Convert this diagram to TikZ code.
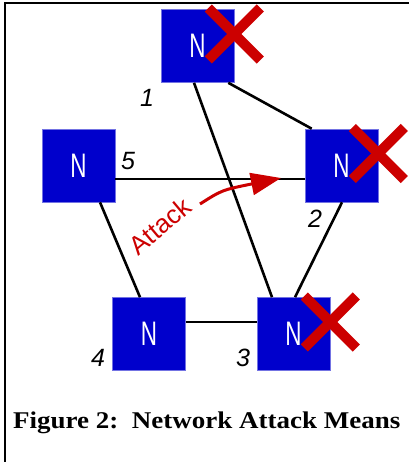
\documentclass[tikz,border=0pt]{standalone}
\usepackage{fontspec}
\usepackage{graphicx}
\setmainfont{Liberation Serif}
\setsansfont{Liberation Sans}
\usetikzlibrary{calc,arrows.meta}
\definecolor{nblue}{RGB}{0,0,204}
\definecolor{xred}{RGB}{204,0,0}
\begin{document}
\begin{tikzpicture}[x=1pt,y=-1pt,
  netnode/.style={draw=nblue!55, line width=0.6pt, fill=nblue, minimum size=73pt, inner sep=0pt, text=white, font=\sffamily\fontsize{34}{34}\selectfont},
  link/.style={line width=2.6pt, black},
  numlabel/.style={font=\sffamily\itshape\fontsize{25}{25}\selectfont, inner sep=0pt},
  crossline/.style={xred, line width=10pt, line cap=butt}]
\useasboundingbox (0,0) rectangle (409,462);
% frame
\draw[line width=2pt, line join=miter] (5,462) -- (5,3.3) -- (409,3.3);
\node[netnode] (n1) at (197.5,46) {\scalebox{0.66}[1]{N}};
\node[netnode] (n2) at (341.5,165.5) {\scalebox{0.66}[1]{N}};
\node[netnode] (n5) at (78.5,165.5) {\scalebox{0.66}[1]{N}};
\node[netnode] (n4) at (149,334) {\scalebox{0.66}[1]{N}};
\node[netnode] (n3) at (293.5,334) {\scalebox{0.66}[1]{N}};
\draw[link] ($(n1.south)+(-3.5,0)$) -- ($(n3.north)+(-21.5,0)$);
\draw[link] ($(n1.south east)+(-6,0)$) -- ($(n2.north west)+(7,0)$);
\draw[link] ($(n2.south)+(0.5,0)$) -- ($(n3.north)+(1.5,0)$);
\draw[link] ($(n5.east)+(0,13.5)$) -- ($(n2.west)+(0,13.5)$);
\draw[link] ($(n5.south)+(21.5,0)$) -- ($(n4.north)+(-9,0)$);
\draw[link] ($(n4.east)+(0,-12)$) -- ($(n3.west)+(0,-12)$);
% crosses
\foreach \n in {n1,n2,n3}{
  \draw[crossline] ($(\n.east)+(-26,-38)$) -- ($(\n.east)+(26,14)$);
  \draw[crossline] ($(\n.east)+(-26,14)$) -- ($(\n.east)+(26,-38)$);
}
% labels
\node[numlabel] (l1) at (147,98) {1};
\node[numlabel] (l5) at (128,161) {5};
\node[numlabel] (l2) at (315,219) {2};
\node[numlabel] (l4) at (98,358) {4};
\node[numlabel] (l3) at (243,358) {3};
% attack
\coordinate (atkS) at (200,204);
\coordinate (atkE) at (281,178);
\draw[xred, line width=3pt, -{Triangle[length=30pt,width=22pt]}] (atkS) .. controls (222,190) .. (atkE);
\node[text=xred, font=\sffamily\fontsize{26}{26}\selectfont, rotate=40, inner sep=0pt] (atk) at (160,226) {Attack};
% caption
\node[font=\bfseries\fontsize{24}{24}\selectfont, anchor=base west, inner sep=0pt] (cap) at (13,428) {\scalebox{1.125}[1]{Figure 2:\hspace{0.5em}Network Attack Means}};
\end{tikzpicture}
\end{document}
